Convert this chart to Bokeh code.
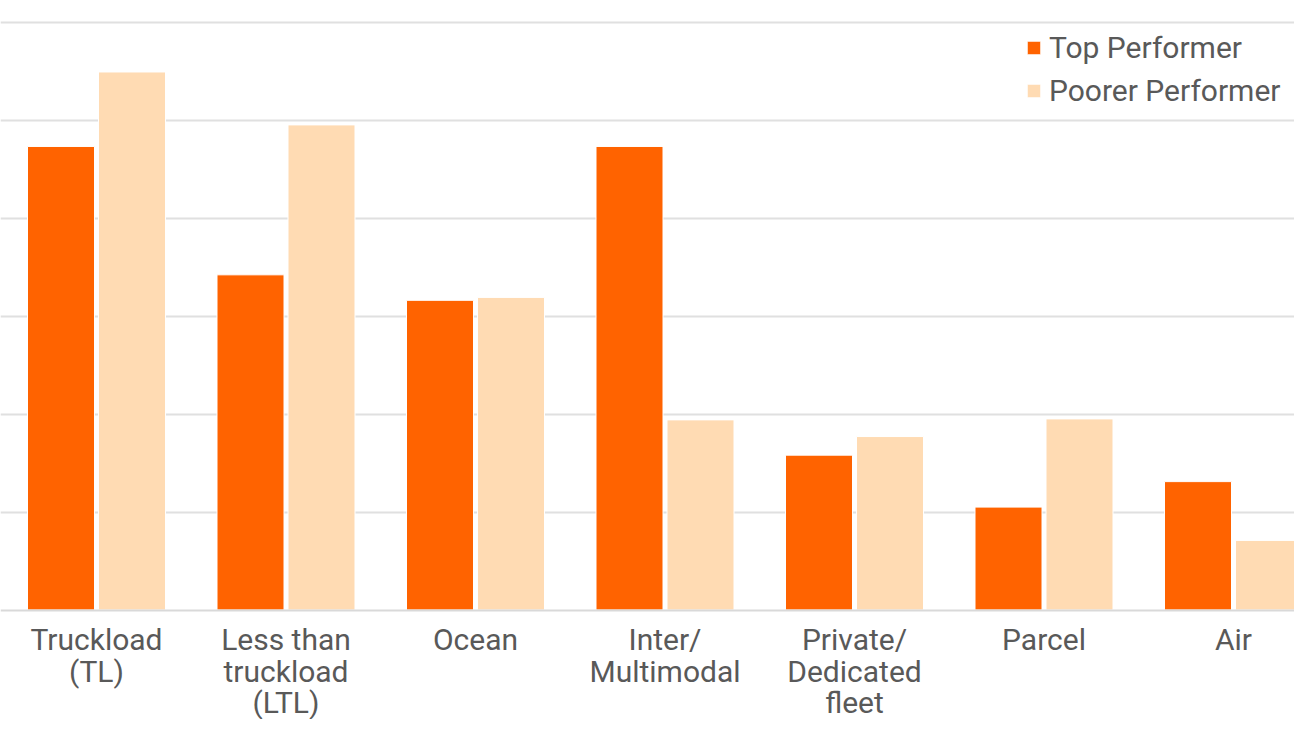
from bokeh.plotting import figure
from bokeh.models import ColumnDataSource, Range1d, FixedTicker, Legend, LegendItem
from bokeh.embed import file_html
from bokeh.resources import INLINE
from bokeh.transform import dodge

categories = ["Truckload\n(TL)", "Less than\ntruckload\n(LTL)", "Ocean", "Inter/\nMultimodal",
              "Private/\nDedicated\nfleet", "Parcel", "Air"]
top_performer = [47.3, 34.2, 31.6, 47.3, 15.8, 10.5, 13.1]
poorer_performer = [54.9, 49.5, 31.9, 19.4, 17.7, 19.5, 7.1]

xs = list(range(len(categories)))
src = ColumnDataSource(dict(x=xs, top=top_performer, poor=poorer_performer))

W, H = 1294, 719
CAT = 189.5        # px per category
UNIT = 9.8         # px per value unit
BASE = 609.5       # baseline px from top
x0 = -96 / CAT
p = figure(width=W, height=H, output_backend="svg", toolbar_location=None,
           x_range=Range1d(x0, x0 + W / CAT),
           y_range=Range1d(-(H - BASE) / UNIT, BASE / UNIT),
           min_border=0, min_border_left=0, min_border_right=0,
           min_border_top=0, min_border_bottom=0)
p.outline_line_color = None

bw = 67 / CAT
off = 35.5 / CAT
r1 = p.vbar(x=dodge("x", -off), top="top", bottom=0, width=bw, source=src,
            fill_color="#FF6300", line_color="#ffffff", line_width=1)
r2 = p.vbar(x=dodge("x", off), top="poor", bottom=0, width=bw, source=src,
            fill_color="#FFDBB3", line_color="#ffffff", line_width=1)

p.yaxis.visible = False
p.ygrid.ticker = FixedTicker(ticks=[10, 20, 30, 40, 50, 60])
p.ygrid.grid_line_color = "#e0e0e0"
p.ygrid.grid_line_width = 2
p.xgrid.grid_line_color = None

ax = p.xaxis[0]
ax.fixed_location = 0
ax.ticker = FixedTicker(ticks=xs)
ax.major_label_overrides = {i: c for i, c in zip(xs, categories)}
ax.major_tick_line_color = None
ax.minor_tick_line_color = None
ax.axis_line_color = "#d9d9d9"
ax.axis_line_width = 2
ax.major_label_standoff = 6
ax.major_label_text_font = "Roboto"
ax.major_label_text_font_size = "30px"
ax.major_label_text_color = "#595959"
ax.major_label_text_line_height = 0.9

legend = Legend(items=[LegendItem(label="Top Performer", renderers=[r1]),
                       LegendItem(label="Poorer Performer", renderers=[r2])],
                location=(1025, 611))
legend.glyph_width = 17
legend.glyph_height = 17
legend.label_text_font = "Roboto"
legend.label_text_font_size = "30px"
legend.label_text_color = "#595959"
legend.label_standoff = 7
legend.spacing = 8
legend.padding = 0
legend.margin = 0
legend.border_line_color = None
legend.background_fill_alpha = 0
p.add_layout(legend)

open("out.html", "w").write(file_html(p, INLINE))
